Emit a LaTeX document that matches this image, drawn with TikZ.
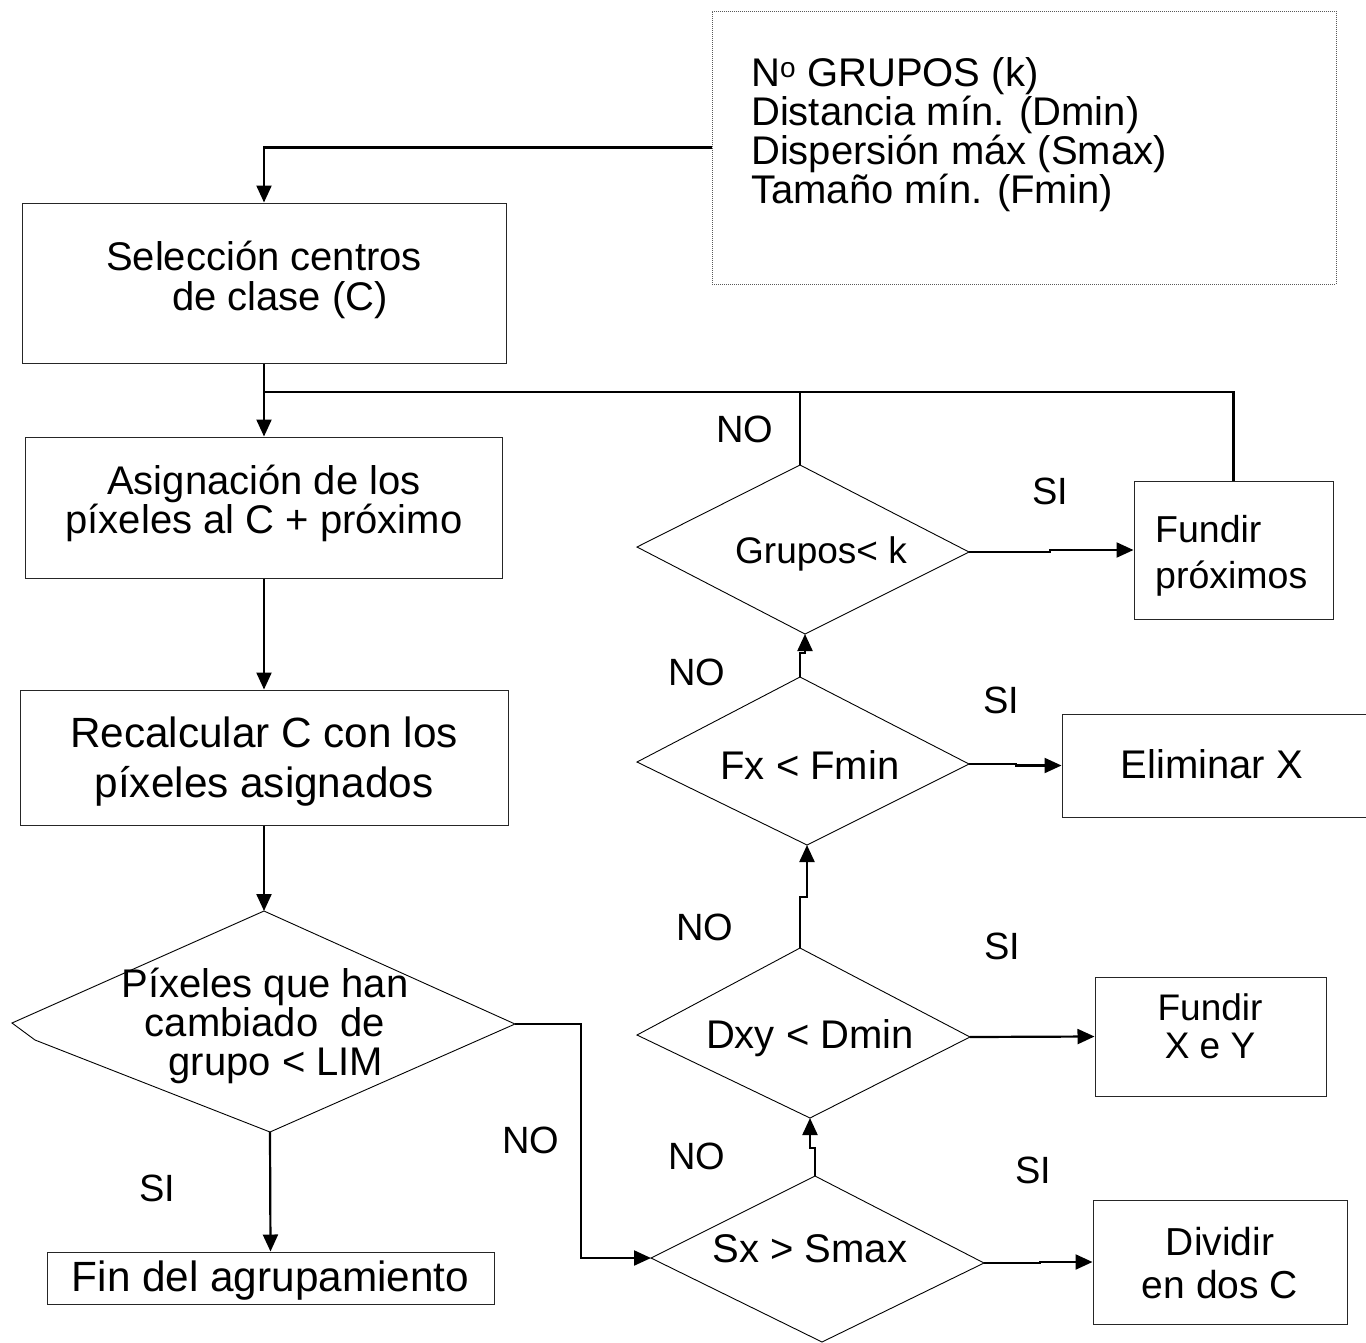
\documentclass[tikz,border=0pt]{standalone}
\usepackage{fontspec}
\setmainfont{Liberation Sans}
\usetikzlibrary{arrows.meta}
\newcommand\fsz[2]{\fontsize{#1}{#2}\selectfont}
\begin{document}
\begin{tikzpicture}[x=1pt,y=-1pt,
  box/.style={draw=black!85, line width=1pt, inner sep=0pt},
  dia/.style={draw=black, line width=0.9pt, line join=miter},
  conn/.style={line width=2.2pt, -{Triangle[length=17pt,width=15pt]}},
  plain/.style={line width=2.2pt},
  txt/.style={inner sep=0pt, align=center},
  lbl/.style={inner sep=0pt, font=\fsz{38}{38}}
]
\useasboundingbox (0,0) rectangle (1366,1342);

% ---------- boxes ----------
\node[box, draw=black!65, dash pattern=on 1pt off 1pt, minimum width=624, minimum height=273] (par) at (1024,147.5) {};
\node[txt, align=left, anchor=west, font=\fsz{40}{39}] (partxt) at (751,135)
  {N\textsuperscript{o} GRUPOS (k)\\Distancia mín. (Dmin)\\Dispersión máx (Smax)\\Tamaño mín. (Fmin)};

\node[box, minimum width=484, minimum height=160] (sel) at (264,283) {};
\node[txt, font=\fsz{40}{40}] (seltxt) at (264,280) {Selección centros\\\hspace*{32pt}de clase (C)};

\node[box, minimum width=477, minimum height=141] (asg) at (264,507.5) {};
\node[txt, font=\fsz{40}{39}] (asgtxt) at (264,503) {Asignación de los\\píxeles al C + próximo};

\node[box, minimum width=488, minimum height=135] (rec) at (264,757.5) {};
\node[txt, font=\fsz{42.3}{50}] (rectxt) at (264,762) {Recalcular C con los\\píxeles asignados};

\node[box, minimum width=447, minimum height=52] (fin) at (270.5,1278) {};
\node[txt, font=\fsz{42.3}{42}] (fintxt) at (270.5,1281) {Fin del agrupamiento};

\node[box, minimum width=199, minimum height=138] (fp) at (1233.5,550) {};
\node[txt, align=left, anchor=west, font=\fsz{37.5}{46}] (fptxt) at (1155,556) {Fundir\\próximos};

\node[box, minimum width=310, minimum height=103] (elim) at (1217,765.5) {};
\node[txt, font=\fsz{40}{40}] (elimtxt) at (1212,764) {Eliminar X};

\node[box, minimum width=231, minimum height=119] (fxy) at (1210.5,1036.5) {};
\node[txt, font=\fsz{37}{38}] (fxytxt) at (1210,1026) {Fundir\\X e Y};

\node[box, minimum width=254, minimum height=124] (div) at (1220,1262) {};
\node[txt, font=\fsz{39}{43}] (divtxt) at (1220,1263) {Dividir\\en dos C};

% ---------- diamonds ----------
\coordinate (grpL) at (637,547);  \coordinate (grpT) at (800,465);
\coordinate (grpR) at (969,552);  \coordinate (grpB) at (805,634);
\coordinate (fxL) at (637,762);   \coordinate (fxT) at (800,677);
\coordinate (fxR) at (969,764);   \coordinate (fxB) at (807,845);
\coordinate (dxyL) at (637,1035); \coordinate (dxyT) at (800,948);
\coordinate (dxyR) at (970,1037); \coordinate (dxyB) at (810,1118);
\coordinate (sxL) at (651,1258);  \coordinate (sxT) at (815,1176);
\coordinate (sxR) at (984,1263);  \coordinate (sxB) at (822,1342);
\coordinate (bigT) at (264,911);  \coordinate (bigR) at (515,1024);
\coordinate (bigB) at (270,1132); \coordinate (bigK) at (35,1040);
\coordinate (bigL) at (12,1023);

\draw[dia] (grpL) -- (grpT) -- (grpR) -- (grpB) -- cycle;
\draw[dia] (fxL) -- (fxT) -- (fxR) -- (fxB) -- cycle;
\draw[dia] (dxyL) -- (dxyT) -- (dxyR) -- (dxyB) -- cycle;
\draw[dia] (sxL) -- (sxT) -- (sxR) -- (sxB) -- cycle;
\draw[dia] (bigL) -- (bigT) -- (bigR) -- (bigB) -- (bigK) -- cycle;

\node[txt, font=\fsz{37}{37}] (grptxt) at (821,553.5) {Grupos< k};
\node[txt, font=\fsz{40}{40}] (fxtxt) at (810,764.5) {Fx < Fmin};
\node[txt, font=\fsz{40}{40}] (dxytxt) at (810,1038) {Dxy < Dmin};
\node[txt, font=\fsz{40}{40}] (sxtxt) at (810,1249) {Sx > Smax};
\node[txt, font=\fsz{40}{39}] (bigtxt) at (265,1026) {Píxeles que han\\cambiado\ \ de\\\hspace*{22pt}grupo < LIM};

% ---------- connectors ----------
\coordinate (j1) at (264,392);
\coordinate (nob) at (581,1258);
\draw[conn] (par.west) -| (sel.north);
\draw[conn] (sel.south) -- (asg.north);
\draw[plain] (fp.north) |- (j1);
\draw[plain] (grpT) -- (grpT |- j1);
\draw[conn] (asg.south) -- (rec.north);
\draw[conn] (rec.south) -- (bigT);
\draw[conn] (bigB) -- (fin.north);
\draw[conn] (bigR) -| (nob) -- (sxL);
\draw[conn] (sxT) -- ++(0,-28) -| (dxyB);
\draw[conn] (dxyT) -- ++(0,-51) -| (fxB);
\draw[conn] (fxT) -- ++(0,-24) -| (grpB);
\draw[conn] (grpR) -- ++(81,0) |- (fp.west);
\draw[conn] (fxR) -- ++(47,0) |- (elim.west);
\draw[conn] (dxyR) -- (fxy.west);
\draw[conn] (sxR) -- ++(56,0) |- (div.west);

% ---------- labels ----------
\node[lbl] (l1) at (745,429) {NO};
\node[lbl] (l2) at (1050,491) {SI};
\node[lbl] (l3) at (697,672) {NO};
\node[lbl] (l4) at (1001,700) {SI};
\node[lbl] (l5) at (705,927) {NO};
\node[lbl] (l6) at (1002,946) {SI};
\node[lbl] (l7) at (697,1156) {NO};
\node[lbl] (l8) at (1033,1170) {SI};
\node[lbl] (l9) at (531,1140) {NO};
\node[lbl] (l10) at (157,1188) {SI};
\end{tikzpicture}
\end{document}
